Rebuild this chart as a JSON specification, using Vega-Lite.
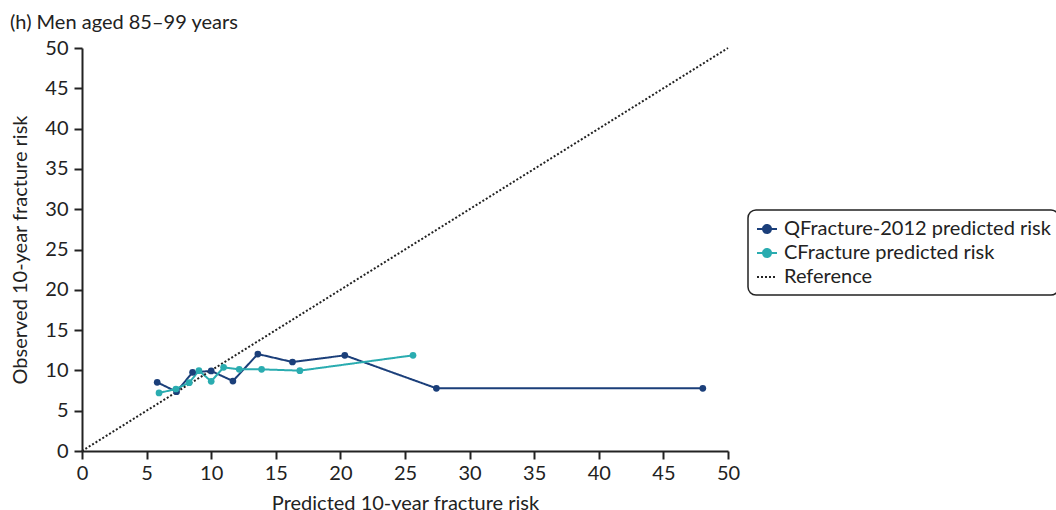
{
  "$schema": "https://vega.github.io/schema/vega-lite/v6.json",
  "autosize": "none",
  "width": 646,
  "height": 403,
  "padding": {"left": 82, "top": 48, "right": 328, "bottom": 59},
  "background": "white",
  "title": {
    "text": "(h) Men aged 85–99 years",
    "anchor": "start",
    "frame": "group",
    "dx": -72,
    "offset": 5,
    "font": "Lato",
    "fontSize": 20,
    "fontWeight": "normal",
    "color": "#222"
  },
  "config": {
    "view": {"stroke": null},
    "font": "Lato",
    "axis": {
      "grid": false,
      "domainColor": "#222",
      "domainWidth": 2,
      "tickColor": "#222",
      "tickWidth": 2,
      "tickSize": 8,
      "labelFlush": false,
      "labelFont": "Lato",
      "labelFontSize": 20,
      "labelColor": "#222",
      "titleFont": "Lato",
      "titleFontSize": 20,
      "titleFontWeight": "normal",
      "titleColor": "#222"
    }
  },
  "data": {
    "values": [
      {"series": "QFracture-2012 predicted risk", "x": 5.82, "y": 8.52},
      {"series": "QFracture-2012 predicted risk", "x": 7.32, "y": 7.36},
      {"series": "QFracture-2012 predicted risk", "x": 8.56, "y": 9.76},
      {"series": "QFracture-2012 predicted risk", "x": 10.0, "y": 9.93},
      {"series": "QFracture-2012 predicted risk", "x": 11.68, "y": 8.68},
      {"series": "QFracture-2012 predicted risk", "x": 13.61, "y": 12.03},
      {"series": "QFracture-2012 predicted risk", "x": 16.29, "y": 11.04},
      {"series": "QFracture-2012 predicted risk", "x": 20.34, "y": 11.87},
      {"series": "QFracture-2012 predicted risk", "x": 27.43, "y": 7.78},
      {"series": "QFracture-2012 predicted risk", "x": 48.05, "y": 7.78},
      {"series": "CFracture predicted risk", "x": 5.96, "y": 7.2},
      {"series": "CFracture predicted risk", "x": 7.27, "y": 7.69},
      {"series": "CFracture predicted risk", "x": 8.3, "y": 8.48},
      {"series": "CFracture predicted risk", "x": 9.05, "y": 9.97},
      {"series": "CFracture predicted risk", "x": 10.0, "y": 8.64},
      {"series": "CFracture predicted risk", "x": 10.96, "y": 10.38},
      {"series": "CFracture predicted risk", "x": 12.17, "y": 10.13},
      {"series": "CFracture predicted risk", "x": 13.9, "y": 10.13},
      {"series": "CFracture predicted risk", "x": 16.86, "y": 9.97},
      {"series": "CFracture predicted risk", "x": 25.62, "y": 11.87},
      {"series": "Reference", "x": 0, "y": 0},
      {"series": "Reference", "x": 50, "y": 50}
    ]
  },
  "encoding": {
    "x": {
      "field": "x", "type": "quantitative",
      "scale": {"domain": [0, 50], "nice": false},
      "axis": {"values": [0,5,10,15,20,25,30,35,40,45,50], "title": "Predicted 10-year fracture risk", "labelPadding": 4, "titlePadding": 10}
    },
    "y": {
      "field": "y", "type": "quantitative",
      "scale": {"domain": [0, 50], "nice": false},
      "axis": {"values": [0,5,10,15,20,25,30,35,40,45,50], "title": "Observed 10-year fracture risk", "labelPadding": 6, "titlePadding": 14}
    },
    "color": {
      "field": "series", "type": "nominal",
      "scale": {
        "domain": ["QFracture-2012 predicted risk", "CFracture predicted risk", "Reference"],
        "range": ["#1b3f7a", "#2aacb0", "#222222"]
      },
      "legend": {
        "title": null,
        "orient": "none",
        "legendX": 666,
        "legendY": 162,
        "strokeColor": "#222",
        "cornerRadius": 8,
        "padding": 8,
        "labelFont": "Lato",
        "labelFontSize": 20,
        "labelColor": "#222",
        "labelLimit": 0,
        "symbolSize": 400,
        "labelOffset": 6,
        "rowPadding": 3,
        "encode": {
          "legend": {
            "update": {
              "strokeWidth": {"value": 1.5}
            }
          },
          "symbols": {
            "update": {
              "shape": [
                {"test": "datum.value === 'Reference'", "value": "M-1,0H1"},
                {"value": "M-1,0H1M0.4,0A0.4,0.4,0,1,1,-0.4,0A0.4,0.4,0,1,1,0.4,0Z"}
              ],
              "strokeDash": [
                {"test": "datum.value === 'Reference'", "value": [1.5, 1.5]},
                {"value": []}
              ],
              "strokeWidth": {"value": 2},
              "fillOpacity": [
                {"test": "datum.value === 'Reference'", "value": 0},
                {"value": 1}
              ]
            }
          }
        }
      }
    }
  },
  "layer": [
    {
      "mark": {"type": "line", "strokeWidth": 2},
      "encoding": {
        "strokeDash": {
          "field": "series", "type": "nominal",
          "scale": {
            "domain": ["QFracture-2012 predicted risk", "CFracture predicted risk", "Reference"],
            "range": [[1, 0], [1, 0], [2, 2]]
          },
          "legend": null
        }
      }
    },
    {
      "transform": [{"filter": "datum.series !== 'Reference'"}],
      "mark": {"type": "point", "filled": true, "size": 45, "opacity": 1}
    }
  ]
}
